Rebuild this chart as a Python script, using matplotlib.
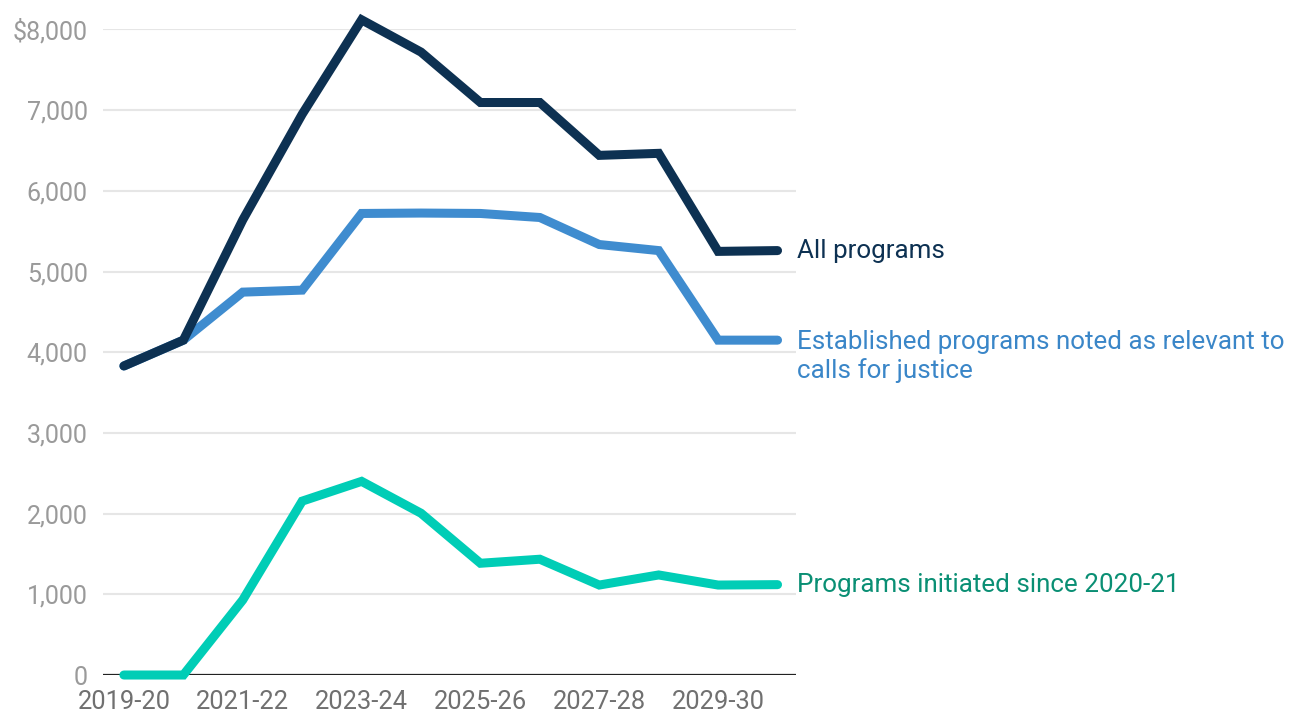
import matplotlib.pyplot as plt

plt.rcParams['font.family'] = ['Roboto', 'DejaVu Sans']

years = ['2019-20', '2020-21', '2021-22', '2022-23', '2023-24', '2024-25',
         '2025-26', '2026-27', '2027-28', '2028-29', '2029-30', '2030-31']
all_programs = [3830, 4150, 5640, 6950, 8120, 7720, 7095, 7095, 6440, 6465, 5250, 5260]
established = [3830, 4150, 4745, 4770, 5720, 5725, 5720, 5670, 5335, 5260, 4150, 4150]
initiated = [0, 0, 930, 2155, 2400, 2005, 1385, 1435, 1115, 1240, 1115, 1120]

series = [
    (all_programs, '#0d3152', '#0d3152', 'All programs', 0, 5),
    (established, '#3f8ccf', '#3a86c8', 'Established programs noted as relevant to\ncalls for justice', -11.5, 4),
    (initiated, '#00cdb6', '#0a8f74', 'Programs initiated since 2020-21', 0, 3),
]

fig = plt.figure(figsize=(12.89, 7.14), dpi=100)
ax = fig.add_axes([0.080, 0.0546, 0.5375, 0.9041])

x = list(range(len(years)))
for vals, col, tcol, label, dy, z in series:
    ax.plot(x, vals, color=col, lw=6.5, solid_capstyle='round',
            solid_joinstyle='miter', clip_on=False, zorder=z)
    ax.annotate(label, xy=(x[-1], vals[-1]), xytext=(14, dy),
                textcoords='offset points', va='center', ha='left',
                color=tcol, fontsize=18.7, linespacing=1.2, annotation_clip=False)

ax.set_xlim(-0.35, 11.31)
ax.set_ylim(0, 8000)
yt = list(range(0, 8001, 1000))
ax.set_yticks(yt)
ax.set_yticklabels(['$8,000' if v == 8000 else f'{v:,}' for v in yt])
ax.set_xticks(x[::2])
ax.set_xticklabels(years[::2])

ax.grid(axis='y', color='#e6e6e6', lw=1.5)
ax.set_axisbelow(True)
ax.axhline(0, color='#222222', lw=1.6, zorder=2)
for s in ax.spines.values():
    s.set_visible(False)
ax.tick_params(axis='y', length=0, pad=11, labelsize=18, labelcolor='#9a9a9a')
ax.tick_params(axis='x', length=0, pad=11, labelsize=18.4, labelcolor='#707070')

fig.savefig('out.png', dpi=100)
